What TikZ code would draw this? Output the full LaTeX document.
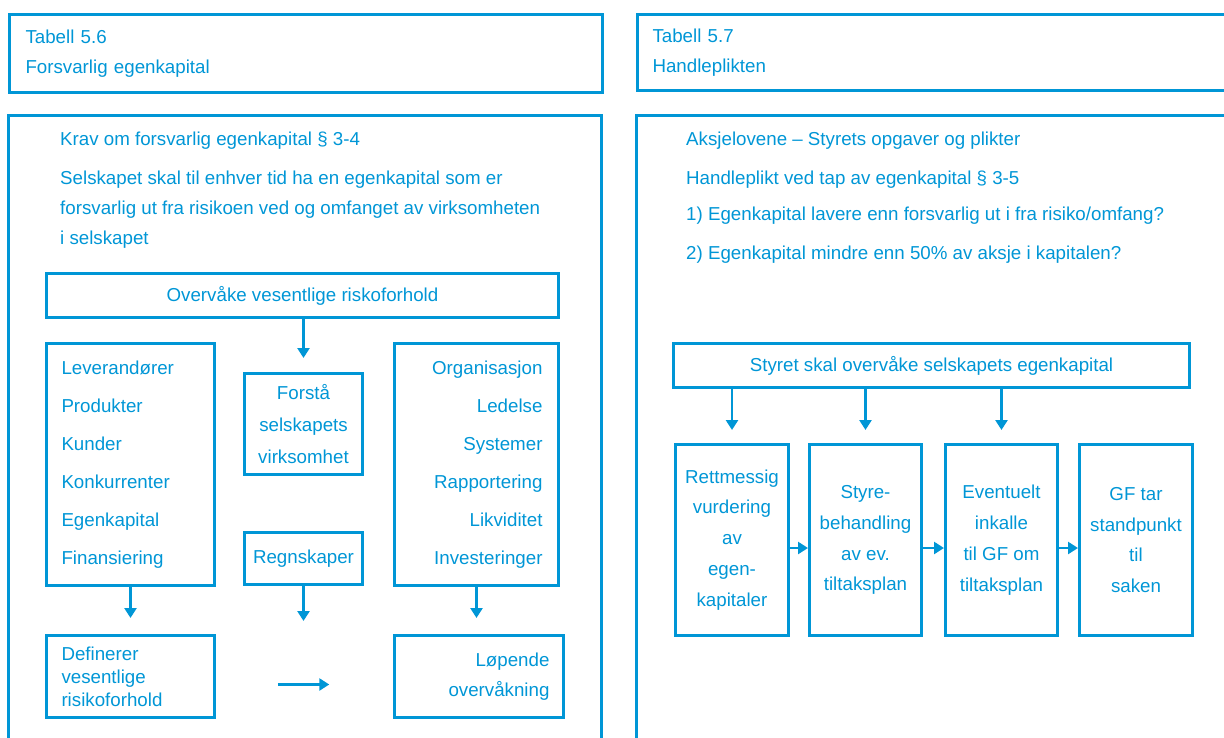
\documentclass[tikz,border=0pt]{standalone}
\usepackage{fontspec}
\setmainfont{Liberation Sans}
\usetikzlibrary{arrows.meta,calc}
\definecolor{tabblaa}{RGB}{0,150,214}
\newcommand\skrift[1]{\fontsize{18.8}{#1}\selectfont}
\tikzset{
  ramme/.style={draw=tabblaa, line width=3bp},
  boks/.style={draw=tabblaa, line width=3bp, text=tabblaa, inner sep=0pt, anchor=north west},
  tekst/.style={text=tabblaa, inner sep=0pt, anchor=west, font=\skrift{22}},
  pil/.style={draw=tabblaa, line width=2.5bp, -{Triangle[length=10bp,width=12bp]}}
}

\begin{document}
\begin{tikzpicture}[x=1bp,y=-1bp]
	\useasboundingbox (0,0) rectangle (1224,738);
	\clip (0,0) rectangle (1224,738);
	% overskrifter
	\node[boks, minimum width=593bp, minimum height=78bp, align=left, text width=561bp, font=\skrift{30}] (tab56) at (8,13) {Tabell 5.6\\Forsvarlig egenkapital};
	\node[boks, minimum width=604bp, minimum height=76bp, align=left, text width=574bp, font=\skrift{30}] (tab57) at (636,13) {Tabell 5.7\\Handleplikten};
	\draw[ramme] (8,115) rectangle (601,760);
	\draw[ramme] (636,115) rectangle (1240,760);
	% venstre del
	\node[tekst] (krav) at (60,141) {Krav om forsvarlig egenkapital § 3-4};
	\node[tekst, align=left, font=\skrift{30}] (selsk) at (60,210) {Selskapet skal til enhver tid ha en egenkapital som er\\forsvarlig ut fra risikoen ved og omfanget av virksomheten\\i selskapet};
	\node[boks, minimum width=512bp, minimum height=44bp, font=\skrift{22}] (overv) at (45,272) {Overvåke vesentlige riskoforhold};
	\node[boks, minimum width=168bp, minimum height=242bp, align=left, text width=138bp, font=\skrift{38.2}] (ytre) at (45,342) {Leverandører\\Produkter\\Kunder\\Konkurrenter\\Egenkapital\\Finansiering};
	\node[boks, minimum width=118bp, minimum height=101bp, align=center, font=\skrift{32}] (forst) at (243,372) {Forstå\\selskapets\\virksomhet};
	\node[boks, minimum width=118bp, minimum height=52bp, font=\skrift{22}] (regn) at (243,531) {Regnskaper};
	\node[boks, minimum width=164bp, minimum height=242bp, align=right, text width=132bp, font=\skrift{38.2}] (indre) at (393,342) {Organisasjon\\Ledelse\\Systemer\\Rapportering\\Likviditet\\Investeringer};
	\node[boks, minimum width=168bp, minimum height=82bp, align=left, text width=138bp, font=\skrift{23}] (def) at (45,634) {Definerer\\vesentlige\\risikoforhold};
	\node[boks, minimum width=169bp, minimum height=82bp, align=right, text width=141bp, font=\skrift{30}] (lop) at (393,634) {Løpende\\overvåkning};
	\draw[pil] (overv.south -| forst) -- ([yshift=14bp]forst.north);
	\draw[pil] (ytre.south) -- ([yshift=16bp]def.north -| ytre);
	\draw[pil] (regn.south) -- ++(0,35);
	\draw[pil] (indre.south) -- ([yshift=16bp]lop.north -| indre);
	\draw[pil] ($(def.east)!0.35!(lop.west)+(0,8)$) -- ($(def.east)!0.64!(lop.west)+(0,8)$);
	% hoyre del
	\node[tekst] (aksje) at (686,141) {Aksjelovene – Styrets opgaver og plikter};
	\node[tekst] (handl) at (686,180) {Handleplikt ved tap av egenkapital § 3-5};
	\node[tekst] (sp1) at (686,216) {1) Egenkapital lavere enn forsvarlig ut i fra risiko/omfang?};
	\node[tekst] (sp2) at (686,255) {2) Egenkapital mindre enn 50\% av aksje i kapitalen?};
	\node[boks, minimum width=516bp, minimum height=44bp, font=\skrift{22}] (styret) at (672,342) {Styret skal overvåke selskapets egenkapital};
	\node[boks, minimum width=113bp, minimum height=191bp, align=center, font=\skrift{31}] (b1) at (674,443) {Rettmessig\\vurdering\\av\\egen-\\kapitaler};
	\node[boks, minimum width=112bp, minimum height=191bp, align=center, font=\skrift{31}] (b2) at (808,443) {Styre-\\behandling\\av ev.\\tiltaksplan};
	\node[boks, minimum width=112bp, minimum height=191bp, align=center, font=\skrift{31}] (b3) at (944,443) {Eventuelt\\inkalle\\til GF om\\tiltaksplan};
	\node[boks, minimum width=113bp, minimum height=191bp, align=center, font=\skrift{31}] (b4) at (1078,443) {GF tar\\standpunkt\\til\\saken};
	\foreach \b in {b1,b2,b3}
		\draw[pil] (styret.south -| \b) -- ([yshift=13bp]\b.north);
	\draw[pil] ([yshift=-8bp]b1.east) -- ([yshift=-8bp]b2.west);
	\draw[pil] ([yshift=-8bp]b2.east) -- ([yshift=-8bp]b3.west);
	\draw[pil] ([yshift=-8bp]b3.east) -- ([yshift=-8bp]b4.west);
\end{tikzpicture}
\end{document}
